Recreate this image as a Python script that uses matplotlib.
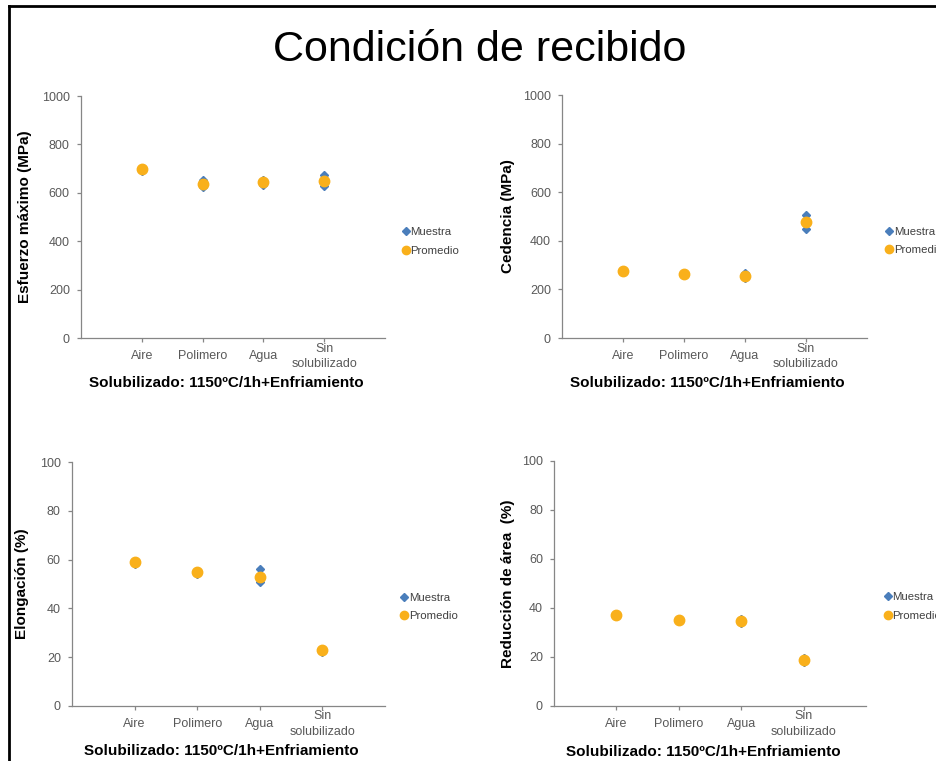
import matplotlib
matplotlib.use('Agg')
import matplotlib.pyplot as plt
from matplotlib.lines import Line2D

plt.rcParams['font.family'] = ['Liberation Sans', 'DejaVu Sans']

categorias = ["Aire", "Polimero", "Agua", "Sin\nsolubilizado"]
xpos = [1, 2, 3, 4]

# Muestras (dos probetas por condición) y promedio
esfuerzo_m1 = [704, 652, 655, 674]
esfuerzo_m2 = [690, 624, 634, 627]
esfuerzo_prom = [697, 637, 644, 650]

cedencia_m1 = [280, 268, 268, 508]
cedencia_m2 = [274, 258, 246, 450]
cedencia_prom = [277, 263, 256, 479]

elong_m1 = [59.5, 55.5, 56.0, 23.5]
elong_m2 = [58.0, 54.0, 50.7, 22.0]
elong_prom = [58.9, 54.8, 53.0, 22.9]

reduc_m1 = [37.6, 35.5, 35.5, 19.5]
reduc_m2 = [37.0, 34.9, 34.0, 18.0]
reduc_prom = [37.3, 35.2, 34.8, 18.7]

xlabel = "Solubilizado: 1150ºC/1h+Enfriamiento"
azul = "#4A7EBB"
naranja = "#F9B01B"
gris = "#868686"

fig = plt.figure(figsize=(9.37, 7.61), dpi=100)
fig.patch.set_facecolor("white")

# [posición del eje, valores, ymax, ylabel, x de ylabel, x de leyenda, y de leyenda]
paneles = [
    ([0.0864, 0.5558, 0.3244, 0.318], esfuerzo_m1, esfuerzo_m2, esfuerzo_prom,
     1000, "Esfuerzo máximo (MPa)", -0.184, 1.062, 0.40),
    ([0.5998, 0.5558, 0.3255, 0.3193], cedencia_m1, cedencia_m2, cedencia_prom,
     1000, "Cedencia (MPa)", -0.177, 1.066, 0.40),
    ([0.0768, 0.0723, 0.334, 0.3206], elong_m1, elong_m2, elong_prom,
     100, "Elongación (%)", -0.16, 1.055, 0.406),
    ([0.5913, 0.0723, 0.333, 0.322], reduc_m1, reduc_m2, reduc_prom,
     100, "Reducción de área  (%)", -0.148, 1.062, 0.406),
]

for pos, m1, m2, prom, ymax, ylab, ylx, lgx, lgy in paneles:
    ax = fig.add_axes(pos)
    ax.plot(xpos, m1, 'D', color=azul, markersize=4.5, zorder=3, label="Muestra")
    ax.plot(xpos, m2, 'D', color=azul, markersize=4.5, zorder=3)
    ax.plot(xpos, prom, 'o', color=naranja, markersize=7.5, zorder=4, label="Promedio")
    ax.set_xlim(0, 5)
    ax.set_ylim(0, ymax)
    ax.set_yticks([ymax * i / 5 for i in range(6)])
    ax.set_yticklabels([f"{int(ymax * i / 5)}" for i in range(6)])
    ax.set_xticks(xpos)
    ax.set_xticklabels(categorias)
    for lab in ax.get_xticklabels():
        lab.set_va('center')
        lab.set_linespacing(1.35)
    for s in ['top', 'right']:
        ax.spines[s].set_visible(False)
    for s in ['left', 'bottom']:
        ax.spines[s].set_color(gris)
        ax.spines[s].set_linewidth(0.9)
    ax.tick_params(axis='both', colors=gris, labelcolor="#595959", labelsize=9,
                   length=3, width=0.9)
    ax.tick_params(axis='x', pad=10)
    ax.tick_params(axis='y', pad=5)
    ax.set_ylabel(ylab, fontsize=11, fontweight='bold')
    ax.yaxis.set_label_coords(ylx, 0.5)
    ax.yaxis.label.set_va('center')
    ax.set_xlabel(xlabel, fontsize=11, fontweight='bold')
    ax.xaxis.set_label_coords(0.477, -0.186)
    ax.xaxis.label.set_va('center')
    leg = ax.legend(loc='center left', bbox_to_anchor=(lgx, lgy), frameon=False,
                    fontsize=8.2, handlelength=0.4, handletextpad=0.2, borderpad=0,
                    borderaxespad=0, labelspacing=0.75, markerscale=0.8)
    for t in leg.get_texts():
        t.set_color("#404040")

fig.text(0.512, 0.934, "Condición de recibido", fontsize=31, ha='center', va='center')

# marco negro
fig.add_artist(Line2D([9 / 937, 1], [1 - 6 / 761, 1 - 6 / 761], color='black', lw=2))
fig.add_artist(Line2D([9 / 937, 9 / 937], [0, 1 - 6 / 761], color='black', lw=2))

fig.savefig("out.png", dpi=100)
